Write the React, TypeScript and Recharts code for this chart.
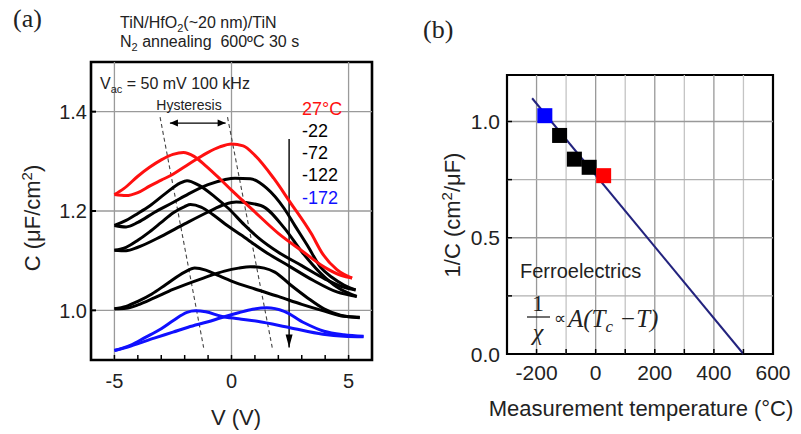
import React from 'react'
import { LineChart, ComposedChart, Line, Scatter, Cell, XAxis, YAxis, ReferenceLine, ReferenceArea } from 'recharts'

type Pt = [number, number]

// (a) C-V butterfly loops, [V, C (uF/cm2)]
// "rev" = branch with the peak on the negative side, "fwd" = peak on the positive side
const c27Rev: Pt[] = [[-5, 1.233], [-4.6, 1.245], [-4, 1.27], [-3.5, 1.288], [-3, 1.303], [-2.5, 1.314], [-2.05, 1.318], [-1.6, 1.31], [-1.1, 1.291], [-0.5, 1.265], [0, 1.242], [1, 1.198], [2, 1.155], [3, 1.12], [4, 1.086], [4.7, 1.07], [5.15, 1.065]]
const c27Fwd: Pt[] = [[-5, 1.233], [-4.5, 1.231], [-4, 1.237], [-3.5, 1.25], [-3, 1.262], [-2.5, 1.274], [-2, 1.289], [-1.5, 1.304], [-1, 1.318], [-0.5, 1.329], [0, 1.335], [0.5, 1.331], [1, 1.312], [1.8, 1.266], [2.5, 1.218], [3.4, 1.155], [3.9, 1.113], [4.5, 1.082], [5.15, 1.065]]
const cm22Rev: Pt[] = [[-5, 1.171], [-4.5, 1.181], [-4, 1.195], [-3.5, 1.21], [-2.8, 1.236], [-2.2, 1.256], [-1.9, 1.261], [-1.4, 1.252], [-0.7, 1.228], [-0.15, 1.206], [0.55, 1.172], [1.15, 1.146], [2, 1.117], [3, 1.09], [4, 1.063], [4.7, 1.048], [5.3, 1.041]]
const cm22Fwd: Pt[] = [[-5, 1.171], [-4.5, 1.168], [-4, 1.177], [-3.3, 1.197], [-2.5, 1.217], [-1.85, 1.234], [-1, 1.253], [-0.3, 1.263], [0.15, 1.266], [0.8, 1.265], [1.5, 1.246], [2.25, 1.205], [2.7, 1.171], [3.25, 1.13], [3.8, 1.087], [4.3, 1.066], [4.8, 1.051], [5.3, 1.041]]
const cm72Rev: Pt[] = [[-5, 1.121], [-4.5, 1.127], [-4, 1.141], [-3.5, 1.158], [-3, 1.177], [-2.5, 1.196], [-2, 1.209], [-1.75, 1.213], [-1.3, 1.208], [-0.8, 1.193], [-0.3, 1.175], [0.4, 1.152], [1.5, 1.116], [2.5, 1.088], [3.5, 1.06], [4.5, 1.037], [5.35, 1.028]]
const cm72Fwd: Pt[] = [[-5, 1.121], [-4.5, 1.12], [-4, 1.127], [-3, 1.149], [-2, 1.174], [-1, 1.198], [-0.3, 1.213], [0.2, 1.218], [1.25, 1.211], [2.25, 1.166], [3, 1.118], [3.8, 1.075], [4.5, 1.047], [5.35, 1.028]]
const cm122Rev: Pt[] = [[-5, 1.003], [-4.5, 1.008], [-4, 1.018], [-3.4, 1.033], [-2.8, 1.052], [-2, 1.077], [-1.57, 1.085], [-1.1, 1.081], [-0.6, 1.071], [0, 1.059], [1, 1.043], [2, 1.028], [3, 1.012], [4, 0.998], [4.8, 0.988], [5.48, 0.986]]
const cm122Fwd: Pt[] = [[-5, 1.003], [-4.5, 1.004], [-4, 1.011], [-3.3, 1.025], [-2.5, 1.042], [-1.2, 1.065], [-0.3, 1.079], [0.3, 1.085], [0.8, 1.088], [1.4, 1.085], [1.85, 1.077], [2.5, 1.052], [3.25, 1.025], [3.95, 1.003], [4.65, 0.99], [5.48, 0.985]]
const cm172Rev: Pt[] = [[-5, 0.919], [-4.3, 0.93], [-3.7, 0.945], [-3, 0.963], [-2.5, 0.979], [-1.9, 0.996], [-1.55, 0.999], [-1.1, 0.997], [-0.45, 0.988], [0.3, 0.983], [1.1, 0.978], [2.5, 0.965], [3.9, 0.952], [4.8, 0.948], [5.64, 0.947]]
const cm172Fwd: Pt[] = [[-5, 0.919], [-4.3, 0.928], [-3.3, 0.944], [-2.5, 0.956], [-1.85, 0.966], [-1, 0.977], [-0.45, 0.985], [0.3, 0.995], [0.9, 1.002], [1.5, 1.005], [2.25, 0.998], [3.1, 0.975], [3.95, 0.958], [4.8, 0.951], [5.64, 0.948]]

const tempLabels = ['27°C', '-22', '-72', '-122', '-172']

const xTicksA = [-5, -4, -3, -2, -1, 0, 1, 2, 3, 4, 5]
const yTicksA = [1.0, 1.2, 1.4]

// hysteresis guide lines and arrows, in (V, C)
const guideLeft: Pt[] = [[-3.05, 1.389], [-1.19, 0.925]]
const guideRight: Pt[] = [[-0.17, 1.389], [1.74, 0.925]]
const hystArrow: Pt[] = [[-2.63, 1.377], [-0.25, 1.377]]
const tempArrow: Pt[] = [[2.46, 1.345], [2.46, 0.925]]

// (b) 1/C vs measurement temperature
const tempsC = [-172, -122, -72, -22, 27]
const invCap = [1.025, 0.94, 0.838, 0.803, 0.767]
const pointColors = ['#0000ff', '#000000', '#000000', '#000000', '#ff0000']
const fitT = [-215, 500]
const fitInv = [1.1, 0]

const xTicksB = [-200, -100, 0, 100, 200, 300, 400, 500, 600]
const yTicksB = [0, 0.25, 0.5, 0.75, 1.0]

const SANS = 'Liberation Sans, Arial, sans-serif'
const SERIF = 'Liberation Serif, Times New Roman, serif'
const INK = '#222'

const rows = (pts: Pt[]) => pts.map(([v, c]) => ({ v, c }))
const seg = (pts: Pt[]) => pts.map(([x, y]) => ({ x, y })) as any

const loops = [
  { key: 'm22r', pts: cm22Rev, color: '#000' },
  { key: 'm22f', pts: cm22Fwd, color: '#000' },
  { key: 'm72r', pts: cm72Rev, color: '#000' },
  { key: 'm72f', pts: cm72Fwd, color: '#000' },
  { key: 'm122r', pts: cm122Rev, color: '#000' },
  { key: 'm122f', pts: cm122Fwd, color: '#000' },
  { key: 'm172r', pts: cm172Rev, color: '#1010ff' },
  { key: 'm172f', pts: cm172Fwd, color: '#1010ff' },
  { key: 'p27r', pts: c27Rev, color: '#ff1010' },
  { key: 'p27f', pts: c27Fwd, color: '#ff1010' },
]

const arrow = (both: boolean, len: number, half: number) => (p: any) => {
  const { x1, y1, x2, y2 } = p
  const a = Math.atan2(y2 - y1, x2 - x1)
  const head = (x: number, y: number, ang: number) => {
    const bx = x - len * Math.cos(ang)
    const by = y - len * Math.sin(ang)
    const px = half * Math.sin(ang)
    const py = -half * Math.cos(ang)
    return `${x},${y} ${bx + px},${by + py} ${bx - px},${by - py}`
  }
  return (
    <g>
      <line x1={x1} y1={y1} x2={x2} y2={y2} stroke="#000" strokeWidth={1.4} />
      <polygon points={head(x2, y2, a)} fill="#000" />
      {both && <polygon points={head(x1, y1, a + Math.PI)} fill="#000" />}
    </g>
  )
}

const tickAX = (p: any) => {
  const v = p.payload.value
  if (v % 5 !== 0) return <g />
  return <text x={p.x} y={p.y} dy="0.71em" textAnchor="middle" fontSize={20} fill={INK} fontFamily={SANS}>{v}</text>
}
const tickAY = (p: any) => (
  <text x={p.x} y={p.y} dy="0.36em" textAnchor="end" fontSize={20} fill={INK} fontFamily={SANS}>{Number(p.payload.value).toFixed(1)}</text>
)
const tickBX = (p: any) => {
  const v = p.payload.value
  if (v % 200 !== 0) return <g />
  return <text x={p.x} y={p.y} dy="0.71em" textAnchor="middle" fontSize={21} fill={INK} fontFamily={SANS}>{v}</text>
}
const tickBY = (p: any) => {
  const v = Number(p.payload.value)
  if (Math.abs(v * 2 - Math.round(v * 2)) > 1e-6) return <g />
  return <text x={p.x} y={p.y} dy="0.36em" textAnchor="end" fontSize={21} fill={INK} fontFamily={SANS}>{v.toFixed(1)}</text>
}

function PanelA() {
  return (
    <LineChart width={400} height={434} margin={{ top: 62, right: 28, bottom: 34, left: 0 }}>
      <XAxis type="number" dataKey="v" domain={[-6, 6]} ticks={xTicksA} interval={0} height={40}
        axisLine={false} tickSize={-5} tickMargin={19} tickLine={{ stroke: '#000', strokeWidth: 1.5 }} tick={tickAX} />
      <YAxis type="number" dataKey="c" domain={[0.9, 1.5]} ticks={yTicksA} interval={0} width={91}
        axisLine={false} tickSize={-5} tickMargin={9} tickLine={{ stroke: '#000', strokeWidth: 2 }} tick={tickAY} />
      {[-5, 0, 5].map((x) => <ReferenceLine key={'gx' + x} x={x} stroke="#9a9a9a" strokeWidth={1.3} />)}
      {yTicksA.map((y) => <ReferenceLine key={'gy' + y} y={y} stroke="#9a9a9a" strokeWidth={1.3} />)}
      <ReferenceArea x1={-6} x2={6} y1={0.9} y2={1.5} fill="none" stroke="#000" strokeWidth={2.6} />
      <ReferenceLine segment={seg(guideLeft)} stroke="#444" strokeWidth={1.1} strokeDasharray="4 3" />
      <ReferenceLine segment={seg(guideRight)} stroke="#444" strokeWidth={1.1} strokeDasharray="4 3" />
      <ReferenceLine segment={seg(hystArrow)} shape={arrow(true, 8, 3.5)} />
      <ReferenceLine segment={seg(tempArrow)} shape={arrow(false, 13, 3.5)} />
      {loops.map((l) => (
        <Line key={l.key} data={rows(l.pts)} dataKey="c" type="monotone" stroke={l.color} strokeWidth={3}
          dot={false} activeDot={false} isAnimationActive={false} />
      ))}
    </LineChart>
  )
}

function PanelB() {
  const pts = tempsC.map((t, i) => ({ t, inv: invCap[i] }))
  const fit = fitT.map((t, i) => ({ t, inv: fitInv[i] }))
  return (
    <ComposedChart width={401} height={434} margin={{ top: 75, right: 28, bottom: 40, left: 0 }}>
      <XAxis type="number" dataKey="t" domain={[-300, 600]} ticks={xTicksB} interval={0} height={40}
        axisLine={false} tickSize={-5} tickMargin={16} tickLine={{ stroke: '#000', strokeWidth: 1.5 }} tick={tickBX} />
      <YAxis type="number" dataKey="inv" domain={[0, 1.2]} ticks={yTicksB} interval={0} width={107}
        axisLine={false} tickSize={-5} tickMargin={12} tickLine={{ stroke: '#000', strokeWidth: 1.5 }} tick={tickBY} />
      {xTicksB.slice(0, -1).map((x) => (
        <ReferenceLine key={'gx' + x} x={x} stroke={x % 200 === 0 ? '#999' : '#c4c4c4'} strokeWidth={1.3} />
      ))}
      {yTicksB.slice(1).map((y) => (
        <ReferenceLine key={'gy' + y} y={y} stroke={Math.abs(y - 0.5) < 1e-6 || y === 1 ? '#999' : '#b0b0b0'} strokeWidth={1.3} />
      ))}
      <ReferenceArea x1={-277} x2={187} y1={0.297} y2={0.414} fill="#fff" fillOpacity={1} stroke="none" />
      <ReferenceArea x1={-243} x2={232} y1={0.009} y2={0.297} fill="#fff" fillOpacity={1} stroke="none" />
      <ReferenceArea x1={-300} x2={600} y1={0} y2={1.2} fill="none" stroke="#000" strokeWidth={2.2} />
      <Scatter data={pts} dataKey="inv" isAnimationActive={false}
        shape={(p: any) => <rect x={p.cx - 7.5} y={p.cy - 7.5} width={15} height={15} fill={p.fill} />}>
        {pts.map((_, i) => <Cell key={i} fill={pointColors[i]} />)}
      </Scatter>
      <Line data={fit} dataKey="inv" type="linear" stroke="#23237e" strokeWidth={2} dot={false} activeDot={false} isAnimationActive={false} />
    </ComposedChart>
  )
}

export default function App() {
  const tempColors = ['#ff1010', '#000', '#000', '#000', '#1010ff']
  return (
    <div style={{ position: 'absolute', left: 0, top: 0, width: 801, height: 434, background: '#fff', overflow: 'hidden' }}>
      <div style={{ position: 'absolute', left: 0, top: 0 }}><PanelA /></div>
      <div style={{ position: 'absolute', left: 400, top: 0 }}><PanelB /></div>
      <svg width={801} height={434} style={{ position: 'absolute', left: 0, top: 0, pointerEvents: 'none' }} fontFamily={SANS} fill={INK}>
        <text x={13} y={27} fontFamily={SERIF} fontSize={26}>(a)</text>
        <text x={423} y={38} fontFamily={SERIF} fontSize={26}>(b)</text>

        <text x={120} y={28} fontSize={16}>TiN/HfO<tspan fontSize={11} dy={4}>2</tspan><tspan dy={-4}>(~20 nm)/TiN</tspan></text>
        <text x={120} y={47} fontSize={16} style={{ whiteSpace: 'pre' }}>N<tspan fontSize={11} dy={4}>2</tspan><tspan dy={-4}> annealing  600ºC 30 s</tspan></text>
        <text x={100} y={89} fontSize={16}>V<tspan fontSize={11} dy={4}>ac</tspan><tspan dy={-4}> = 50 mV 100 kHz</tspan></text>
        <text x={189} y={110} fontSize={14} textAnchor="middle">Hysteresis</text>
        {tempLabels.map((t, i) => (
          <text key={t} x={302} y={[115, 137, 159, 181, 204][i]} fontSize={18} fill={tempColors[i]}>{t}</text>
        ))}

        <text x={236} y={425} fontSize={22} textAnchor="middle">V (V)</text>
        <text transform="translate(40,218) rotate(-90)" fontSize={22} textAnchor="middle">
          C (μF/cm<tspan fontSize={15} dy={-8}>2</tspan><tspan dy={8}>)</tspan>
        </text>

        <text x={641} y={416} fontSize={22} textAnchor="middle">Measurement temperature (°C)</text>
        <text transform="translate(460,215) rotate(-90)" fontSize={22} textAnchor="middle">
          1/C (cm<tspan fontSize={15} dy={-8}>2</tspan><tspan dy={8}>/μF)</tspan>
        </text>

        <text x={520} y={278} fontSize={20}>Ferroelectrics</text>
        <g fontFamily={SERIF}>
          <text x={538} y={311} fontSize={24} textAnchor="middle">1</text>
          <line x1={527} x2={550} y1={317} y2={317} stroke={INK} strokeWidth={1.3} />
          <text x={538} y={340} fontSize={24} fontStyle="italic" textAnchor="middle">χ</text>
          <text x={554} y={324} fontSize={17}>∝</text>
          <text x={568} y={327} fontSize={25} fontStyle="italic">A(T<tspan fontSize={17} dy={5}>c</tspan><tspan dy={-5}> −T)</tspan></text>
        </g>
      </svg>
    </div>
  )
}
